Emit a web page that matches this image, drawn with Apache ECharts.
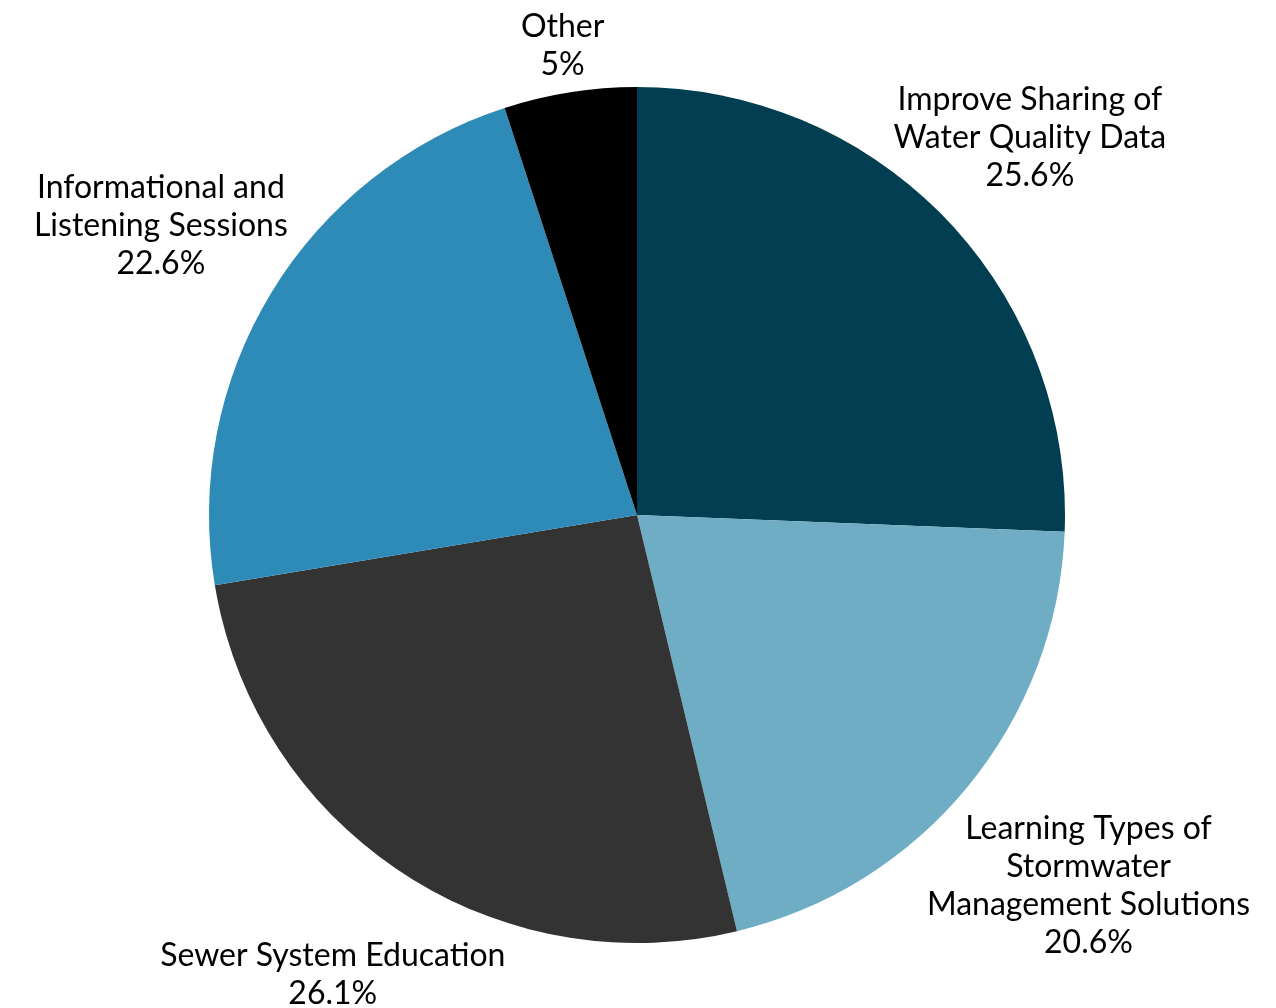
<!DOCTYPE html>
<html>
<head>
<meta charset="utf-8">
<script src="https://cdn.jsdelivr.net/npm/echarts@6/dist/echarts.min.js"></script>
<style>
html,body{margin:0;padding:0;background:#fff;}
#chart{width:1276px;height:1008px;}
</style>
</head>
<body>
<div id="chart"></div>
<script>
const categories = [
  "Improve Sharing of\nWater Quality Data",
  "Learning Types of\nStormwater\nManagement Solutions",
  "Sewer System Education",
  "Informational and\nListening Sessions",
  "Other"
];
const values = [25.6, 20.6, 26.1, 22.6, 5];
const colors = ["#023e51", "#6eadc3", "#333333", "#2e8bb8", "#000000"];

const CX = 637, CY = 515, R = 428;
const labelDist = [545, 584, 551, 557, 475];
const total = values.reduce((a, b) => a + b, 0);
const midAngles = [];
let acc = 0;
values.forEach(v => { midAngles.push((acc + v / 2) / total * 2 * Math.PI); acc += v; });

const chart = echarts.init(document.getElementById('chart'));
chart.setOption({
  animation: false,
  backgroundColor: '#ffffff',
  series: [{
    type: 'pie',
    center: [CX, CY],
    radius: R,
    startAngle: 90,
    clockwise: true,
    data: categories.map((c, i) => ({ name: c, value: values[i], itemStyle: { color: colors[i] } })),
    itemStyle: { borderWidth: 0 },
    label: {
      show: true,
      position: 'outside',
      formatter: p => p.name + '\n' + p.value + '%',
      fontFamily: 'Lato',
      fontSize: 32,
      lineHeight: 38,
      color: '#000',
      align: 'center',
      overflow: 'none',
      width: 500
    },
    labelLine: { show: false },
    labelLayout: function (params) {
      const i = params.dataIndex;
      const a = midAngles[i];
      const d = labelDist[i];
      return {
        x: CX + d * Math.sin(a),
        y: CY - d * Math.cos(a),
        align: 'center',
        verticalAlign: 'middle'
      };
    },
    emphasis: { disabled: true }
  }]
});
</script>
</body>
</html>
